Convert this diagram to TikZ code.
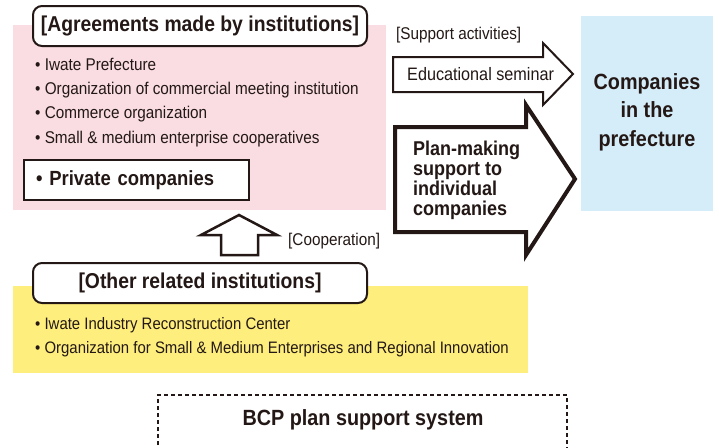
\documentclass[tikz,border=0pt]{standalone}
\usepackage{fontspec}
\setmainfont{Liberation Sans}[FakeStretch=0.9]
\usetikzlibrary{positioning}
\definecolor{agreepink}{HTML}{F9DDE2}
\definecolor{prefblue}{HTML}{D5ECF9}
\definecolor{relyellow}{HTML}{FEEE7D}
\definecolor{ink}{HTML}{231815}

\begin{document}
\begin{tikzpicture}[x=1pt, y=-1pt,
        every node/.append style={text=ink},
        panel/.style={rectangle, anchor=north west, inner sep=0pt},
        heading/.style={rectangle, draw=ink, line width=2pt, rounded corners=9pt, fill=white,
            inner sep=0pt, minimum height=40pt, font=\fontsize{21.5}{24}\selectfont\bfseries},
        item/.style={rectangle, inner sep=0pt, minimum height=24pt, text height=12pt, text depth=4pt,
            font=\fontsize{17}{19}\selectfont},
        smallitem/.style={item, font=\fontsize{16.6}{19}\selectfont},
        tag/.style={rectangle, inner sep=0pt, anchor=west, font=\fontsize{17}{19}\selectfont},
        blockarrow/.style={draw=ink, fill=white, line join=miter},
        big/.style={align=center, inner sep=0pt, font=\fontsize{22}{28.5}\selectfont\bfseries}
    ]
        \useasboundingbox (0,0) rectangle (719,447);
        % Agreements panel
        \node[panel, fill=agreepink, minimum width=373pt, minimum height=185pt] (agreebg) at (13,25) {};
        \node[heading, minimum width=334pt] (agree) at (200,26) {[Agreements made by institutions]};
        \node[item, anchor=west] (pref) at (35,66) {\textbullet\ Iwate Prefecture};
        \node[item, below=0pt of pref.south west, anchor=north west] (commerce) {\textbullet\ Organization of commercial meeting institution};
        \node[item, below=0pt of commerce.south west, anchor=north west] (comorg) {\textbullet\ Commerce organization};
        \node[item, below=0pt of comorg.south west, anchor=north west] (coops) {\textbullet\ Small \& medium enterprise cooperatives};
        \node[rectangle, draw=ink, line width=2pt, fill=white, anchor=west, minimum height=40pt,
            text width=201pt, inner xsep=12pt, align=left, font=\fontsize{20.5}{24}\selectfont\bfseries]
            (private) at (23,180) {\textbullet\ Private companies};
        % Companies
        \node[panel, fill=prefblue, minimum width=132pt, minimum height=195pt] (compbg) at (581,16) {};
        \node[big] (companies) at (647,112) {Companies\\in the\\prefecture};
        % Support activities
        \node[tag] (support) at (396,35) {[Support activities]};
        \draw[blockarrow, line width=2pt] (393,57) -- (543,57) -- (543,43) -- (573,74)
            -- (543,105) -- (543,92) -- (393,92) -- cycle;
        \node[tag, font=\fontsize{18}{20}\selectfont] (seminar) at (407,74) {Educational seminar};
        \draw[blockarrow, line width=4pt] (395,127) -- (526,127) -- (526,105) -- (575,179)
            -- (526,255) -- (526,232) -- (395,232) -- cycle;
        \node[anchor=west, align=left, inner sep=0pt, font=\fontsize{20}{20}\selectfont\bfseries]
            (planmaking) at (413,180) {Plan-making\\support to\\individual\\companies};
        % Cooperation
        \draw[blockarrow, line width=2.5pt] (221,255) -- (221,235) -- (201,235) -- (239,215)
            -- (277,235) -- (258,235) -- (258,255) -- cycle;
        \node[tag] (coop) at (288,241) {[Cooperation]};
        % Other related institutions
        \node[panel, fill=relyellow, minimum width=515pt, minimum height=87pt] (relbg) at (13,286) {};
        \node[heading, minimum width=334pt] (related) at (200,283) {[Other related institutions]};
        \node[smallitem, anchor=west] (irc) at (35,325) {\textbullet\ Iwate Industry Reconstruction Center};
        \node[smallitem, below=0pt of irc.south west, anchor=north west] (smrj) {\textbullet\ Organization for Small \& Medium Enterprises and Regional Innovation};
        % BCP system
        \draw[ink, line width=1.8pt, dash pattern=on 4pt off 3pt] (158,452) -- (158,395) -- (567,395) -- (567,452);
        \node[big] (bcp) at (363,420) {BCP plan support system};
    \end{tikzpicture}
\end{document}
